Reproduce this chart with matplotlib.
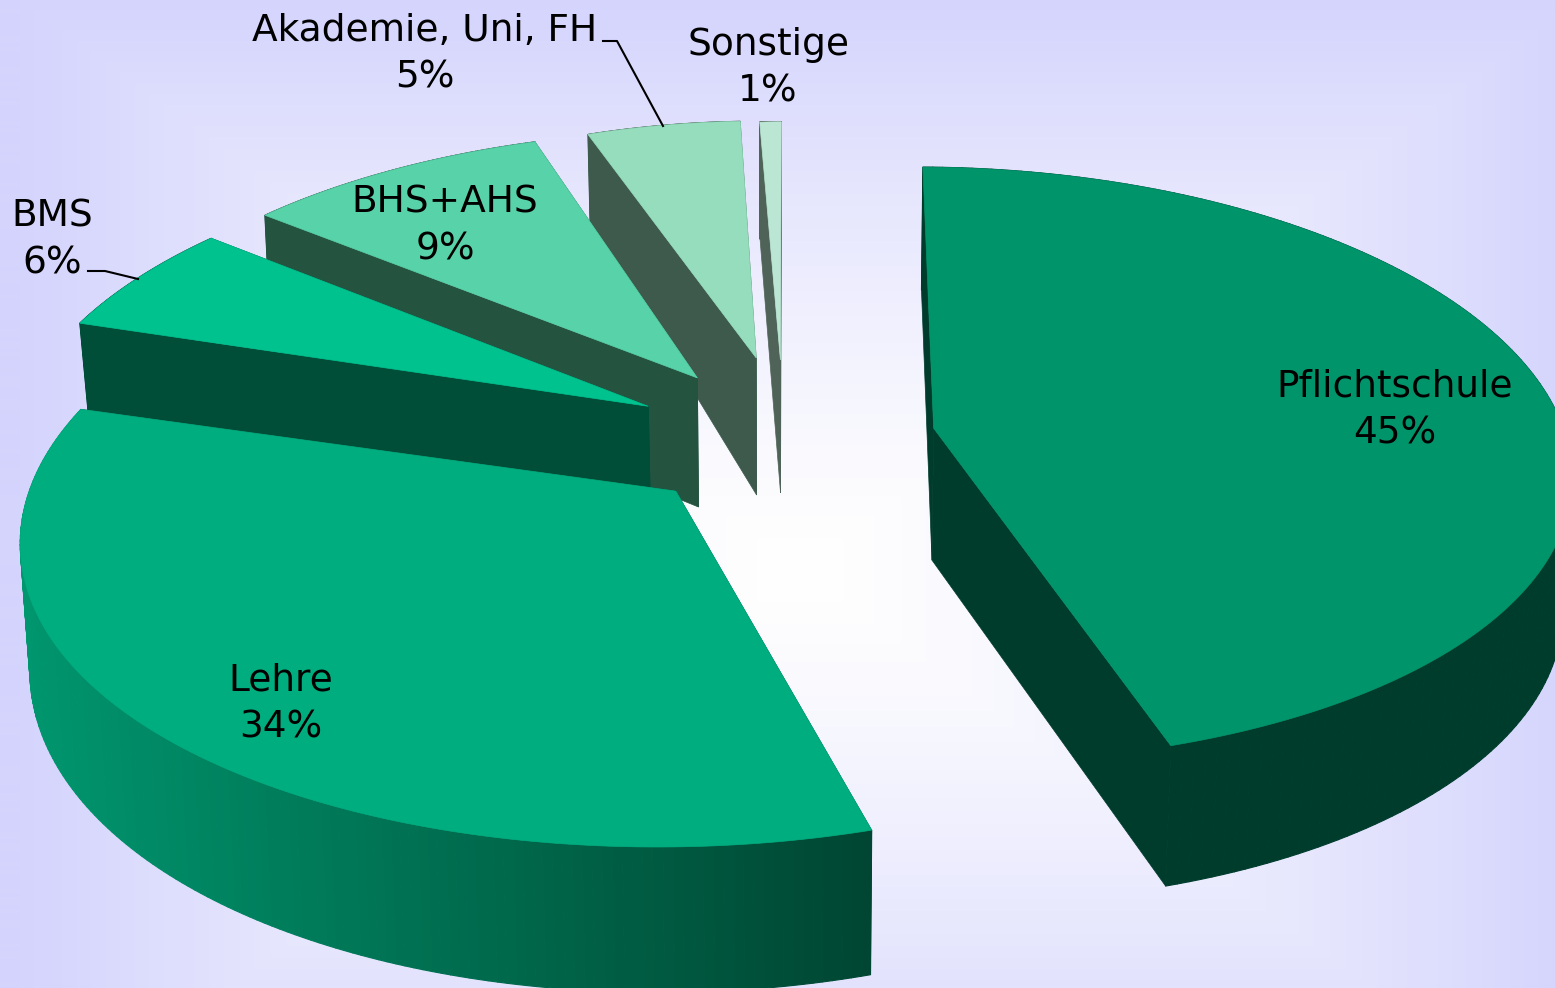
import numpy as np
import matplotlib
matplotlib.use('Agg')
import matplotlib.pyplot as plt
from matplotlib.collections import PolyCollection

categories = ['Pflichtschule', 'Lehre', 'BMS', 'BHS+AHS', 'Akademie, Uni, FH', 'Sonstige']
shares = [45, 34, 6, 9, 5, 1]

# farben
top_colors = ['#00946B', '#00AD7F', '#00C28E', '#58D2A8', '#95DDBD', '#BAE6D3']
face_colors = ['#003C2C', '#004D38', '#004D38', '#245340', '#3D5A4C', '#4F6358']
wall_left = [(0, 60, 44), (0, 150, 110), (0, 77, 56), (36, 83, 64), (61, 90, 76), (79, 99, 88)]
wall_right = [(0, 60, 44), (0, 70, 50), (0, 77, 56), (36, 83, 64), (61, 90, 76), (79, 99, 88)]

# kamera: mitte x/y, breite, tiefe, perspektive
CX, CY, F, G, KX, M, KY = 788.9885, 412.1745, 584.4331, 281.4664, 0.1317, -0.012, 0.1192
H = 120
# explosion und verzerrung pro stueck
shift_x = [0.2457, -0.1867, -0.2413, -0.1592, -0.0575, -0.015]
shift_y = [-0.0565, -0.2713, 0.0209, 0.1234, 0.1971, 0.1895]
radius_x = [1.0694, 1.0668, 1.0741, 1.0676, 0.9722, 0.6781]
radius_y = [1.0283, 1.0333, 1.0254, 1.0133, 0.9822, 0.9869]
turn = [0.0119, 0.0245, 0.0534, 0.0553, 0.0229, -0.0003]
height = [1.0951, 0.9841, 0.695, 1.094, 1.2301, 1.1341]
slope = [0.066, 0.178, -0.12, 0.1372, 0.3636, 0.1206]

label_pos = [(1395, 410), (281, 704), (52, 240), (445, 226), (425, 54), (768, 68)]


def project(i, X, Y, Z):
    x = CX + F * X / (1 + KX * Y + M * Z)
    y = CY - G * Y / (1 + KY * Y) - H * height[i] * Z * (1 - slope[i] * Y)
    return x, y


def rim(i, t):
    return (shift_x[i] + radius_x[i] * np.sin(t + turn[i]),
            shift_y[i] + radius_y[i] * np.cos(t + turn[i]))


fig = plt.figure(figsize=(15.55, 9.88), dpi=100)
ax = fig.add_axes([0, 0, 1, 1])
ax.set_xlim(0, 1555)
ax.set_ylim(988, 0)
ax.axis('off')

# hintergrund, von der mitte nach aussen
xx, yy = np.meshgrid(np.arange(1555), np.arange(988))
d = np.maximum(np.abs(xx - 800) / 780, np.abs(yy - 570) / 570)
d = np.clip(d, 0, 1) ** 1.3
bg = np.dstack([255 - 43 * d, 255 - 43 * d, 255 - 2 * d]) / 255
ax.imshow(bg, extent=(0, 1555, 988, 0), aspect='auto', zorder=0)

edges = np.cumsum([0] + shares) / sum(shares) * 2 * np.pi
z = 1
for i in [5, 4, 3, 2, 0, 1]:
    t = np.linspace(edges[i], edges[i + 1], 160)
    X, Y = rim(i, t)
    tx, ty = project(i, X, Y, 0)
    bx, by = project(i, X, Y, -1)
    ax0, ay0 = project(i, np.array(shift_x[i]), np.array(shift_y[i]), 0)
    ax1, ay1 = project(i, np.array(shift_x[i]), np.array(shift_y[i]), -1)

    # schnittflaechen
    for j in [0, -1]:
        ax.fill([ax0, tx[j], bx[j], ax1], [ay0, ty[j], by[j], ay1],
                color=face_colors[i], lw=0.5, zorder=z)
    z += 1

    # aussenwand in streifen
    quads = [[(tx[j], ty[j]), (tx[j + 1], ty[j + 1]), (bx[j + 1], by[j + 1]), (bx[j], by[j])]
             for j in range(len(t) - 1)]
    span = (tx - tx.min()) / max(tx.max() - tx.min(), 1)
    cols = [tuple((np.array(wall_left[i]) * (1 - s) + np.array(wall_right[i]) * s) / 255)
            for s in span[:-1]]
    ax.add_collection(PolyCollection(quads, facecolors=cols, edgecolors=cols, linewidths=0.8, zorder=z))
    z += 1

    ax.fill(np.r_[ax0, tx], np.r_[ay0, ty], color=top_colors[i], lw=0.5, zorder=z)
    z += 1

# fuehrungslinien
ax.plot([603, 617, 663], [41, 41, 126], color='black', lw=1.5, zorder=z)
ax.plot([88, 105, 138], [271, 271, 279], color='black', lw=1.5, zorder=z)

for c, v, (lx, ly) in zip(categories, shares, label_pos):
    ax.text(lx, ly, '%s\n%d%%' % (c, v), ha='center', va='center', fontsize=27,
            family='DejaVu Sans', linespacing=1.36, color='black', zorder=z + 1)

fig.savefig('out.png', dpi=100)
